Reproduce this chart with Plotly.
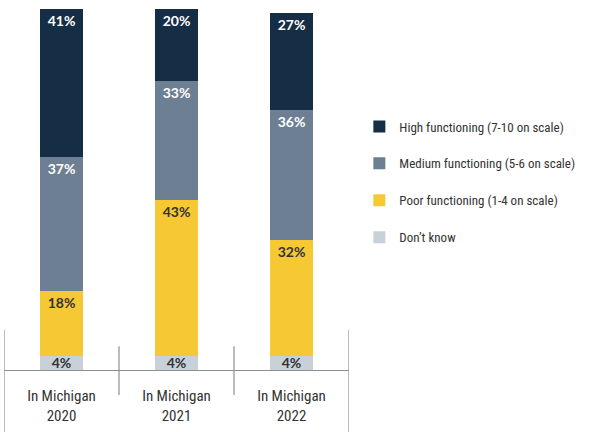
import plotly.graph_objects as go

years = ["In Michigan<br>2020", "In Michigan<br>2021", "In Michigan<br>2022"]
dont_know = [4, 4, 4]
poor = [18, 43, 32]
medium = [37, 33, 36]
high = [41, 20, 27]

# name, values, fill, label colour, legend rank
series = [
    ("Don’t know", dont_know, "#c8d1d8", "#333333", 4),
    ("Poor functioning (1-4 on scale)", poor, "#f6c834", "#333333", 3),
    ("Medium functioning (5-6 on scale)", medium, "#6d7f93", "white", 2),
    ("High functioning (7-10 on scale)", high, "#162d46", "white", 1),
]

NARROW = "Roboto Condensed, Liberation Sans Narrow, Roboto"

fig = go.Figure()
for name, vals, color, tcolor, rank in series:
    fig.add_trace(go.Bar(
        x=years, y=vals, name=name, legendrank=rank, legendgroup=str(rank),
        marker=dict(color=color, line=dict(width=0)),
        text=[f"{v}%" for v in vals],
        textposition="inside",
        insidetextanchor="middle" if rank == 4 else "end",
        textfont=dict(family="Lato", size=14, color=tcolor, weight="bold"),
        textangle=0, constraintext="none",
    ))

# category separators (multi-level axis style)
for xpos, outer in [(-0.5, True), (0.5, False), (1.5, False), (2.5, True)]:
    fig.add_shape(type="line", xref="x", yref="paper",
                  x0=xpos, x1=xpos,
                  y0=0.111 if outer else 0.066,
                  y1=-0.18 if outer else -0.069,
                  line=dict(color="#8a8f94", width=1.2))

fig.update_layout(
    width=600, height=432,
    barmode="stack", bargap=0.62,
    plot_bgcolor="white", paper_bgcolor="white",
    margin=dict(l=4, r=251, t=9, b=62, autoexpand=False),
    font=dict(family=NARROW, size=14, color="#333333"),
    legend=dict(x=1.03, y=0.716, xanchor="left", yanchor="top",
                traceorder="grouped", tracegroupgap=17, itemwidth=30,
                font=dict(family=NARROW, size=13, color="#333333")),
    showlegend=True,
)
fig.update_xaxes(showline=True, linecolor="#8a8f94", linewidth=1.2,
                 ticks="", range=[-0.5, 2.5], automargin=False,
                 ticklabelstandoff=12,
                 tickfont=dict(family=NARROW, size=15, color="#333333"))
fig.update_yaxes(range=[0, 100], visible=False, showgrid=False)

fig.write_html("out.html", config={"displayModeBar": False},
               post_script="document.body.style.margin='0';")
